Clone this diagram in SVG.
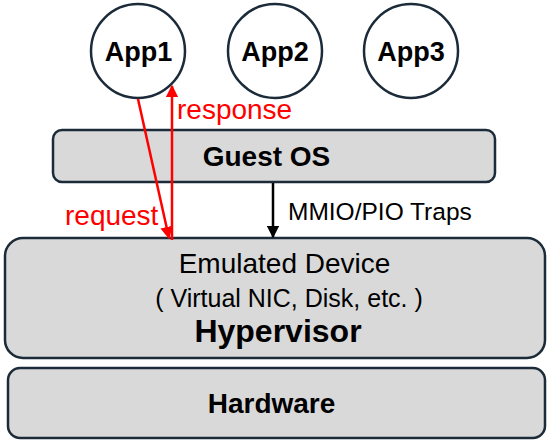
<svg xmlns="http://www.w3.org/2000/svg" width="550" height="445" viewBox="0 0 550 445">
<defs>
<style>
.box{fill:#d9d9d9;stroke:#1c2b39;stroke-width:2.5}
.app{fill:#fff;stroke:#1c2b39;stroke-width:2.5}
.t{font-family:"Liberation Sans",Arial,sans-serif;fill:#000;text-anchor:middle}
.b{font-weight:bold}
.red{stroke:#ff0000;stroke-width:2.5;fill:none}
.lbl{font-family:"Liberation Sans",Arial,sans-serif}
</style>
<marker id="ra" viewBox="0 0 10 10" refX="9" refY="5" markerWidth="5" markerHeight="5" orient="auto-start-reverse"><path d="M0,0 L10,5 L0,10 z" fill="#ff0000"/></marker>
<marker id="ka" viewBox="0 0 10 10" refX="9" refY="5" markerWidth="5" markerHeight="5" orient="auto"><path d="M0,0 L10,5 L0,10 z" fill="#000"/></marker>
</defs>
<rect width="550" height="445" fill="#fff"/>
<g id="app1"><circle class="app" cx="138" cy="51" r="47"/><text class="t b" x="138.5" y="61" font-size="27">App1</text></g>
<g id="app2"><circle class="app" cx="275" cy="51" r="47"/><text class="t b" x="275" y="61" font-size="27">App2</text></g>
<g id="app3"><circle class="app" cx="411" cy="51" r="47"/><text class="t b" x="411" y="61" font-size="27">App3</text></g>
<g id="guestos"><rect class="box" x="53" y="130" width="442" height="52" rx="9"/><text class="t b" x="266.5" y="166" font-size="28">Guest OS</text></g>
<g id="hypervisor"><rect class="box" x="5" y="238" width="540" height="120" rx="18"/>
<text class="t" x="284.5" y="273" font-size="28">Emulated Device</text>
<text class="t" x="289" y="307" font-size="25">( Virtual NIC, Disk, etc. )</text>
<text class="t b" x="278" y="342" font-size="32">Hypervisor</text></g>
<g id="hardware"><rect class="box" x="8" y="368" width="537" height="70" rx="12"/><text class="t b" x="271.5" y="413" font-size="28">Hardware</text></g>
<g id="connectors">
<line x1="273" y1="183" x2="273" y2="237" stroke="#000" stroke-width="2.5" marker-end="url(#ka)"/>
<line class="red" x1="138" y1="99" x2="169" y2="238" marker-end="url(#ra)"/>
<line class="red" x1="172" y1="240" x2="172" y2="86" marker-end="url(#ra)"/>
<text class="lbl" x="288" y="220" font-size="24.5">MMIO/PIO Traps</text>
<text class="lbl" x="177" y="119" font-size="28" fill="#ff0000">response</text>
<text class="lbl" x="65" y="225" font-size="28" fill="#ff0000">request</text>
</g>
</svg>
